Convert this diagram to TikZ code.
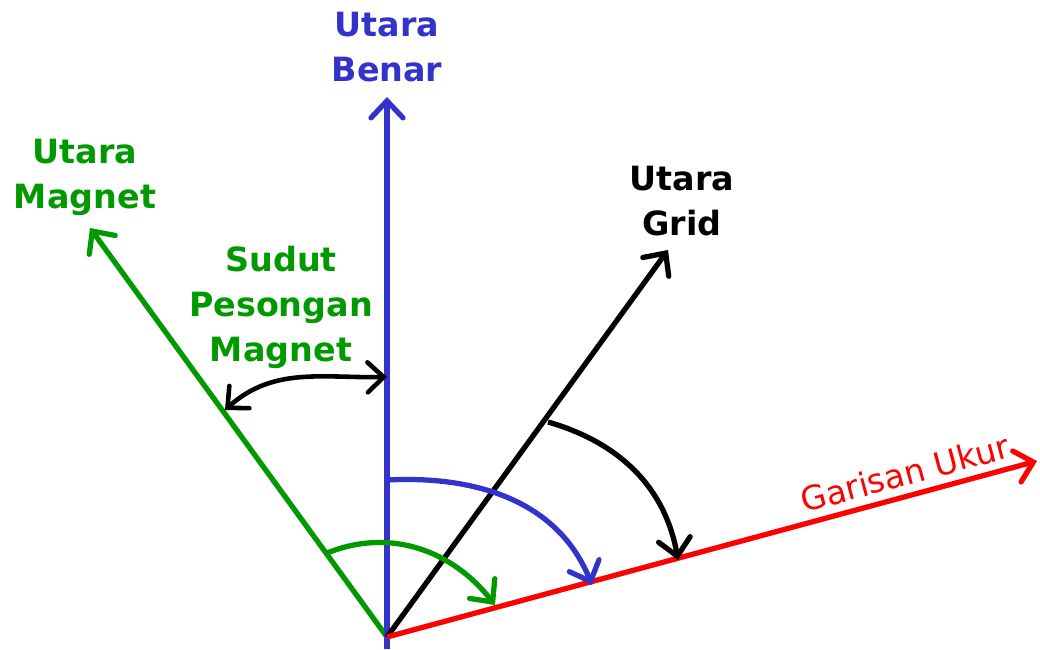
\documentclass[tikz,border=0pt]{standalone}
\usepackage{fontspec}
\setmainfont{DejaVu Sans}
\usetikzlibrary{arrows.meta}
\definecolor{benarblue}{RGB}{51,51,204}
\definecolor{magnetgreen}{RGB}{0,153,0}
\definecolor{ukurred}{RGB}{255,0,0}
\tikzset{
  barb/.style={-{Straight Barb[length=1.7mm,width=3.2mm,line cap=round]}},
  label/.style={font=\fontsize{9.5}{12.8}\selectfont\bfseries,align=center},
  line/.style={line width=1.5pt},
}
\begin{document}
\begin{tikzpicture}
  \useasboundingbox (0,0) rectangle (10.4,6.49);
  % axes
  \coordinate (O) at (3.87,0.12);
  \coordinate (foot) at (3.87,0);
  \coordinate (benartip) at (3.87,5.52);
  \coordinate (magnettip) at (0.90,4.21);
  \coordinate (gridtip) at (6.68,3.99);
  \coordinate (ukurtip) at (10.37,1.88);
  \draw[line,magnetgreen,barb] (O) -- (magnettip);
  \draw[line,benarblue,barb] (foot) -- (benartip);
  \draw[line,barb] (O) -- (gridtip);
  \draw[line,ukurred,barb] (O) -- (ukurtip);
  % labels
  \node[label,benarblue] (benar) at (3.87,6.02) {Utara\\Benar};
  \node[label,magnetgreen] (magnet) at (0.85,4.72) {Utara\\Magnet};
  \node[label] (grid) at (6.82,4.48) {Utara\\Grid};
  \node[label,magnetgreen] (sudut) at (2.81,3.42) {Sudut\\Pesongan\\Magnet};
  \node[font=\fontsize{9.4}{11}\selectfont,ukurred,rotate=15] (ukur) at (9.05,1.76) {Garisan Ukur};
  % angles
  \coordinate (pesA) at (2.25,2.39);
  \coordinate (pesB) at (3.87,2.72);
  \draw[line width=1.3pt,{Straight Barb[length=1.6mm,width=3mm,line cap=round]}-{Straight Barb[length=1.6mm,width=3mm,line cap=round]}]
    (pesA) to[out=42,in=181] (pesB);
  \coordinate (gA) at (3.27,0.96);
  \coordinate (gB) at (4.95,0.44);
  \draw[line,magnetgreen,barb] (gA) to[out=22,in=128] (gB);
  \coordinate (bA) at (3.87,1.69);
  \coordinate (bB) at (5.92,0.64);
  \draw[line,benarblue,barb] (bA) to[out=3,in=112] (bB);
  \coordinate (kA) at (5.48,2.27);
  \coordinate (kB) at (6.78,0.89);
  \draw[line,barb] (kA) to[out=-16,in=100] (kB);
\end{tikzpicture}
\end{document}
